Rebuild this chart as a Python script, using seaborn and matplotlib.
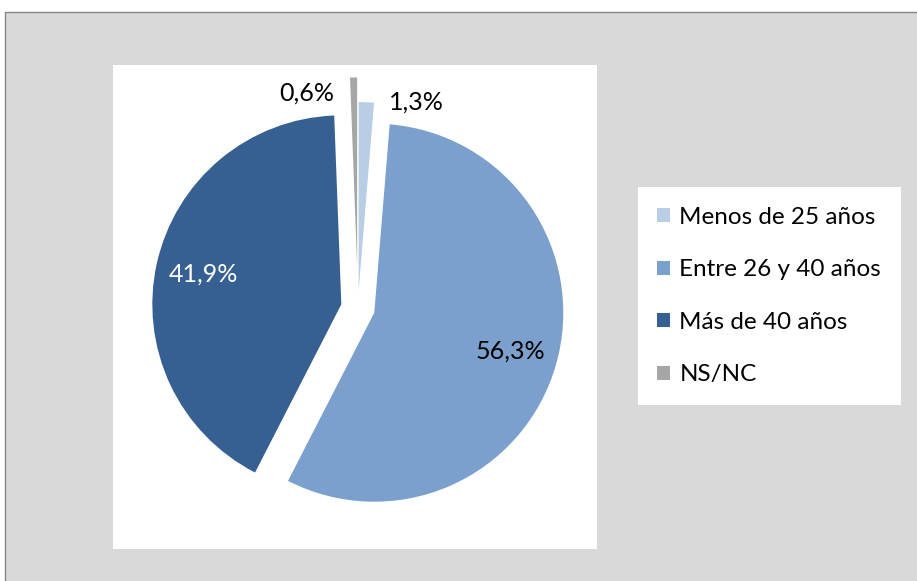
import matplotlib as mpl
mpl.use('agg')
import matplotlib.pyplot as plt
from matplotlib.patches import Rectangle
import seaborn as sns

categorias = ['Menos de 25 años', 'Entre 26 y 40 años', 'Más de 40 años', 'NS/NC']
porcentajes = [1.3, 56.3, 41.9, 0.6]
colores = ['#b9cde5', '#7ba0cd', '#376092', '#a6a6a6']
separacion = [0.09, 0.09, 0.09, 0.22]

sns.set_style('white')
plt.rcParams['font.family'] = ['Lato', 'DejaVu Sans']

fig = plt.figure(figsize=(9.17, 5.81), dpi=100)
fig.patch.set_facecolor('white')
# marco gris del grafico
marco = Rectangle((4.5 / 917, -0.01), 1.0, (581 - 12.5) / 581 + 0.01,
                  transform=fig.transFigure, facecolor='#d9d9d9',
                  edgecolor='#868686', linewidth=1, zorder=-5)
fig.add_artist(marco)

etiquetas = [('%.1f%%' % p).replace('.', ',') for p in porcentajes]

ax = fig.add_axes([113 / 917, 32 / 581, 484 / 917, 484 / 581])
ax.set_zorder(1)
wedges, texts = ax.pie(porcentajes, colors=colores, explode=separacion,
                       startangle=90, counterclock=False,
                       labels=etiquetas, labeldistance=0.75,
                       wedgeprops={'linewidth': 0})
ax.set_frame_on(True)
ax.set_facecolor('white')
for s in ax.spines.values():
    s.set_visible(False)
ax.set_xticks([])
ax.set_yticks([])
ax.set_xlim(-1.296, 1.265)
ax.set_ylim(-1.275, 1.286)

for t in texts:
    t.set_fontsize(18)
    t.set_color('black')
    t.set_ha('center')
    t.set_va('center')
texts[2].set_color('white')
# etiquetas de los sectores pequeños, fuera del circulo
texts[0].set_position((0.31, 1.09))
texts[3].set_position((-0.27, 1.14))

leg = fig.legend(wedges, categorias, loc='center left',
                 bbox_to_anchor=(638 / 917, 1 - 296 / 581), frameon=True,
                 fancybox=False, framealpha=1, edgecolor='white', fontsize=17.5,
                 handlelength=0.5, handleheight=0.5, handletextpad=0.4,
                 labelspacing=1.3, borderpad=0.8, borderaxespad=0)
leg.set_zorder(2)
leg.get_frame().set_linewidth(0)
for t in leg.get_texts():
    t.set_color('black')

fig.savefig('out.png', dpi=100)
